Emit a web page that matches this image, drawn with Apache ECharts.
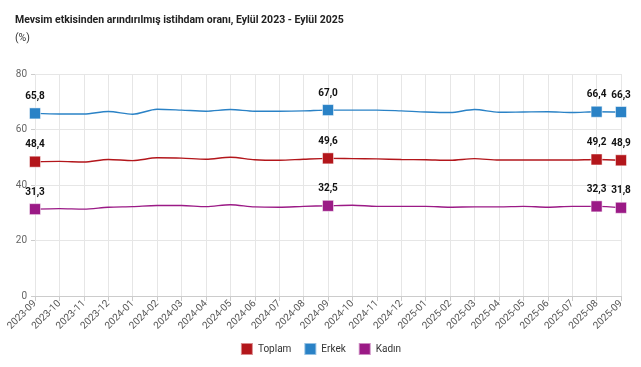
<!DOCTYPE html>
<html><head><meta charset="utf-8">
<script src="https://cdn.jsdelivr.net/npm/echarts@6/dist/echarts.min.js"></script>
<style>html,body{margin:0;padding:0;background:#fff}#c{width:641px;height:367px}</style>
</head><body><div id="c"></div>
<script>
const categories = ["2023-09","2023-10","2023-11","2023-12","2024-01","2024-02","2024-03","2024-04","2024-05","2024-06","2024-07","2024-08","2024-09","2024-10","2024-11","2024-12","2025-01","2025-02","2025-03","2025-04","2025-05","2025-06","2025-07","2025-08","2025-09"];
const toplam = [48.4,48.5,48.3,49.2,48.8,49.8,49.7,49.3,50.0,49.1,48.9,49.3,49.6,49.5,49.4,49.2,49.1,48.9,49.5,49.0,49.0,49.0,49.0,49.2,48.9];
const erkek  = [65.8,65.6,65.6,66.5,65.5,67.3,67.0,66.6,67.2,66.6,66.6,66.7,67.0,67.0,67.0,66.7,66.3,66.1,67.2,66.2,66.3,66.4,66.1,66.4,66.3];
const kadin  = [31.3,31.5,31.3,32.0,32.2,32.6,32.6,32.2,32.9,32.1,32.0,32.3,32.5,32.7,32.3,32.3,32.3,32.0,32.1,32.1,32.3,32.0,32.3,32.3,31.8];
const markedIdx = [0,12,23,24];
const yTicks = [0,20,40,60,80];

const chart = echarts.init(document.getElementById('c'));
function mk(name, vals, color){
  return {
    name, type:'line', smooth:0.3, symbol:'rect', symbolSize:11, showSymbol:true,
    lineStyle:{width:1.4,color}, itemStyle:{color, borderColor:'rgba(255,255,255,0.5)', borderWidth:1},
    data: vals.map((v,i)=>({value:v, symbolSize: markedIdx.includes(i)?11:0,
      label:{show: markedIdx.includes(i)}})),
    label:{position:'top', distance:6, fontWeight:'bold', fontSize:10, color:'#111', fontFamily:'Roboto',
      formatter: p => p.value.toFixed(1).replace('.',',')},
    emphasis:{disabled:true}
  };
}
chart.setOption({
  animation:false,
  title:[{text:'Mevsim etkisinden arındırılmış istihdam oranı, Eylül 2023 - Eylül 2025', left:10, top:10,
    textStyle:{fontSize:10.5, fontWeight:'bold', color:'#222', fontFamily:'Roboto'}},
    {text:'(%)', left:10, top:28, textStyle:{fontSize:10.5, fontWeight:'normal', color:'#333', fontFamily:'Roboto'}}],
  legend:{bottom:6, left:'center', itemWidth:12, itemHeight:12, icon:'rect', itemGap:12,
    textStyle:{fontSize:10,color:'#333',fontFamily:'Roboto'},
    data:['Toplam','Erkek','Kadın']},
  grid:{left:35, right:20, top:74, bottom:71},
  xAxis:{type:'category', data:categories, boundaryGap:false,
    axisLine:{lineStyle:{color:'#ccc'}}, axisTick:{show:true,alignWithLabel:true,lineStyle:{color:'#ccc'}},
    axisLabel:{rotate:45, fontSize:10, color:'#555', interval:0, fontFamily:'Roboto', margin:6},
    splitLine:{show:true, lineStyle:{color:'#e6e6e6'}}},
  yAxis:{type:'value', min:0, max:80, interval:20,
    axisLine:{show:false}, axisTick:{show:true, length:4, lineStyle:{color:'#ccc'}},
    axisLabel:{fontSize:10, color:'#666', fontFamily:'Roboto', margin:8,
      formatter: v => yTicks.includes(v) ? String(v) : ''},
    splitLine:{lineStyle:{color:'#e6e6e6'}}},
  series:[mk('Toplam',toplam,'#b3161b'), mk('Erkek',erkek,'#2a82c6'), mk('Kadın',kadin,'#9b1a86')]
});
</script></body></html>
